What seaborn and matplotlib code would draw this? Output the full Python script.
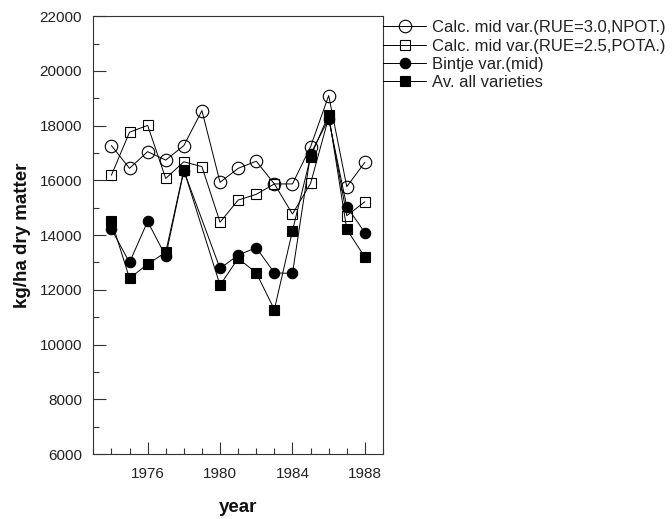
import numpy as np
import pandas as pd
import matplotlib
matplotlib.use("Agg")
import matplotlib.pyplot as plt
from matplotlib.ticker import MultipleLocator, FixedLocator
import seaborn as sns

years = list(range(1974, 1989))
calc_rue30 = [17270, 16440, 17050, 16740, 17270, 18550, 15930, 16440, 16700, 15870, 15870, 17230, 19100, 15770, 16660]
calc_rue25 = [16190, 17760, 18010, 16070, 16680, 16500, 14470, 15280, 15490, 15870, 14770, 15890, 18300, 14710, 15220]
bintje = [14220, 13000, 14500, 13230, 16350, np.nan, 12780, 13270, 13540, 12620, 12600, 16960, 18250, 15040, 14090]
av_all = [14530, 12420, 12940, 13370, 16380, np.nan, 12170, 13150, 12620, 11280, 14160, 16860, 18400, 14210, 13190]

labels = ["Calc. mid var.(RUE=3.0,NPOT.)", "Calc. mid var.(RUE=2.5,POTA.)",
          "Bintje var.(mid)", "Av. all varieties"]
xlabel = "year"
ylabel = "kg/ha dry matter"

sns.set_style("ticks")
plt.rcParams["font.family"] = ["Liberation Sans", "DejaVu Sans"]

fig = plt.figure(figsize=(6.72, 5.19), dpi=100)
ax = fig.add_axes([93.3 / 672, 1 - 454 / 519, (383 - 93.3) / 672, (454 - 16.2) / 519])

styles = [
    dict(marker="o", markersize=9, mfc="none"),
    dict(marker="s", markersize=7, mfc="none"),
    dict(marker="o", markersize=7.5, mfc="black"),
    dict(marker="s", markersize=7, mfc="black"),
]
series = [calc_rue30, calc_rue25, bintje, av_all]
for vals, lab, st in zip(series, labels, styles):
    df = pd.DataFrame({"year": years, "value": vals})
    sns.lineplot(data=df, x="year", y="value", ax=ax, color="black", linewidth=0.7,
                 mec="black", mew=0.8, label=lab, **st)

ax.set_xlim(1973, 1989)
ax.set_ylim(6000, 22000)
ax.xaxis.set_major_locator(FixedLocator([1976, 1980, 1984, 1988]))
ax.xaxis.set_minor_locator(MultipleLocator(1))
ax.yaxis.set_major_locator(MultipleLocator(2000))
ax.yaxis.set_minor_locator(MultipleLocator(1000))
ax.tick_params(which="both", direction="in", colors="#333333", labelcolor="#222222", width=0.8)
ax.tick_params(which="major", length=9, labelsize=11)
ax.tick_params(which="minor", length=4)
ax.tick_params(axis="y", pad=8)
ax.tick_params(axis="x", pad=9)
for s in ax.spines.values():
    s.set_visible(True)
    s.set_linewidth(0.8)
    s.set_color("#333333")

ax.set_xlabel(xlabel, fontsize=13.5, fontweight="bold", labelpad=13, color="#111111")
ax.set_ylabel(ylabel, fontsize=13.5, fontweight="bold", labelpad=6, color="#111111")

leg = ax.legend(loc="upper left", bbox_to_anchor=(1.0, 1 - 4 / 438), frameon=False,
                fontsize=12, handlelength=2.6, handletextpad=0.35, labelspacing=0.2,
                borderaxespad=0, borderpad=0)
for t in leg.get_texts():
    t.set_color("#222222")

fig.savefig("out.png", dpi=100)
